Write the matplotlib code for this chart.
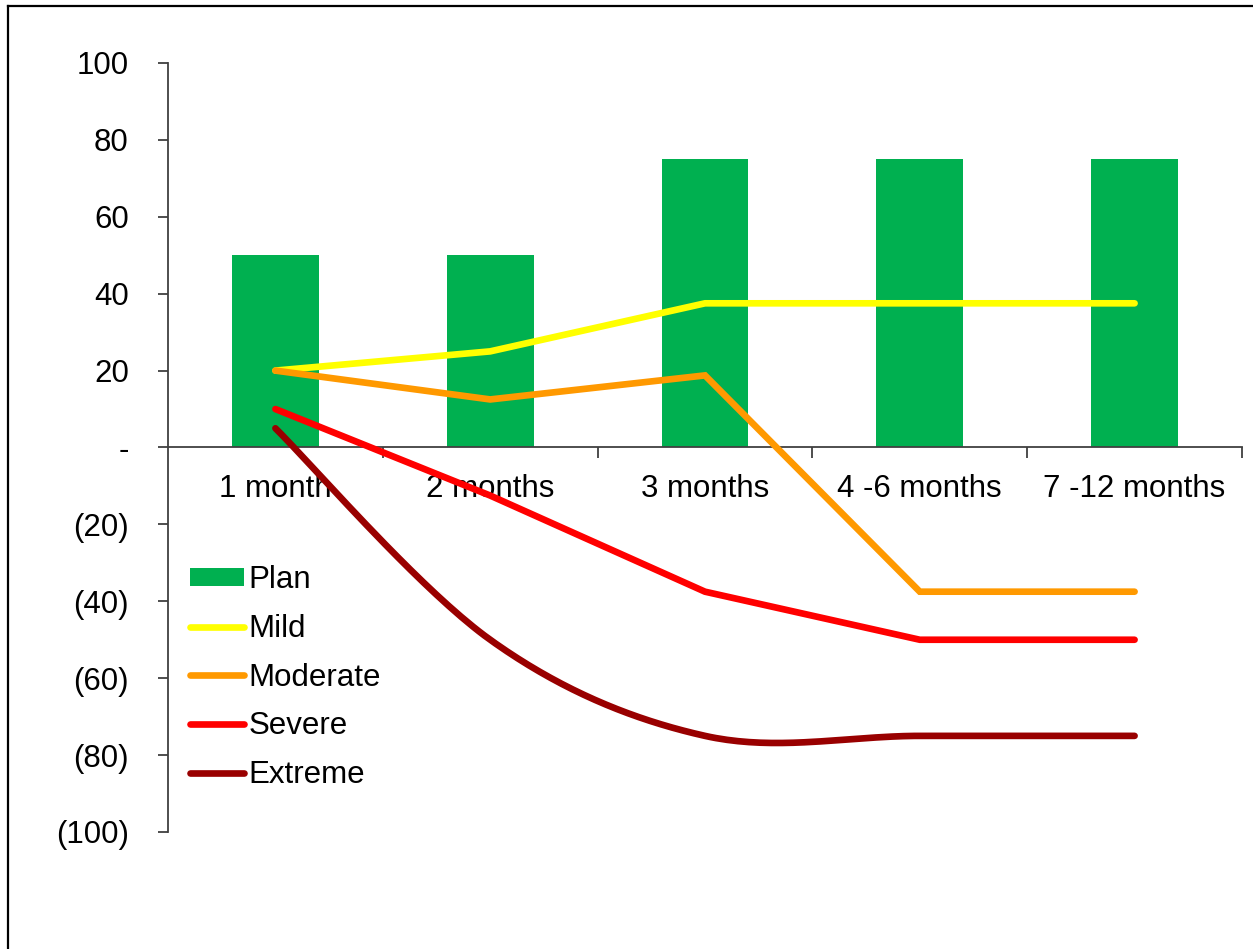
import numpy as np
import matplotlib
matplotlib.use('Agg')
import matplotlib.pyplot as plt
from matplotlib.lines import Line2D
from matplotlib.ticker import FuncFormatter, FixedLocator

plt.rcParams['font.family'] = ['Liberation Sans', 'DejaVu Sans']

# data
categories = ['1 month', '2 months', '3 months', '4 -6 months', '7 -12 months']
plan = [50, 50, 75, 75, 75]
mild = [20, 25, 37.5, 37.5, 37.5]
moderate = [20, 12.5, 18.75, -37.5, -37.5]
severe = [10, -12.5, -37.5, -50, -50]
extreme = [5, -50, -75, -75, -75]

green = '#00B050'
series = [('Mild', mild, '#FFFF00', False),
          ('Moderate', moderate, '#FF9900', False),
          ('Severe', severe, '#FF0000', False),
          ('Extreme', extreme, '#990000', True)]


def smooth(x, y, n=40):
	# excel-like smoothed line (catmull-rom bezier)
	p = np.column_stack([x, y]).astype(float)
	pts = np.vstack([p[0], p, p[-1]])
	out = []
	for i in range(len(p) - 1):
		p0, p1, p2, p3 = pts[i], pts[i + 1], pts[i + 2], pts[i + 3]
		c1 = p1 + (p2 - p0) / 6
		c2 = p2 - (p3 - p1) / 6
		t = np.linspace(0, 1, n)[:, None]
		seg = (1 - t)**3 * p1 + 3 * (1 - t)**2 * t * c1 + 3 * (1 - t) * t**2 * c2 + t**3 * p2
		out.append(seg if i == 0 else seg[1:])
	out = np.vstack(out)
	return out[:, 0], out[:, 1]


fig = plt.figure(figsize=(12.53, 9.49), dpi=100)
ax = fig.add_axes([168/1253, 1 - 832/949, (1242 - 168)/1253, (832 - 63)/949])

x = np.arange(len(categories))
handles = [ax.bar(x, plan, width=0.405, color=green, label='Plan', zorder=1)]

for name, vals, col, sm in series:
	if sm:
		xs, ys = smooth(x, vals)
	else:
		xs, ys = x, vals
	ln, = ax.plot(xs, ys, color=col, lw=4.8, label=name, solid_capstyle='round',
				  solid_joinstyle='miter', zorder=3)
	handles.append(ln)

ax.set_xlim(-0.5, len(categories) - 0.5)
ax.set_ylim(-100, 100)

axcol = '#404040'
for s in ['top', 'right']:
	ax.spines[s].set_visible(False)
ax.spines['bottom'].set_position(('data', 0))
ax.spines['bottom'].set_zorder(2)
for s in ['left', 'bottom']:
	ax.spines[s].set_color(axcol)
	ax.spines[s].set_linewidth(1.3)

ax.set_yticks(np.arange(-100, 101, 20))
ax.yaxis.set_major_formatter(FuncFormatter(
	lambda v, p: '-' if v == 0 else (f'({abs(v):.0f})' if v < 0 else f'{v:.0f}')))
ax.tick_params(axis='y', direction='out', length=7.2, width=1.3, color=axcol,
			   labelsize=22.5, pad=21)

ax.set_xticks(x)
ax.set_xticklabels(categories)
ax.xaxis.set_minor_locator(FixedLocator(np.arange(0.5, len(categories), 1.0)))
ax.tick_params(axis='x', which='major', length=0, labelsize=22.5, pad=19)
ax.tick_params(axis='x', which='minor', direction='out', length=8, width=1.3, color=axcol)

leg = ax.legend(handles=handles, loc='upper left', bbox_to_anchor=(190/1253, 1 - 565/949),
				bbox_transform=fig.transFigure, frameon=False, fontsize=22.5,
				borderpad=0, borderaxespad=0, handlelength=1.74, handletextpad=0.13,
				labelspacing=0.6, handleheight=0.53)

# page border (left and top only)
fig.add_artist(Line2D([8/1253, 8/1253], [0, 1 - 6/949], color='black', lw=1.6))
fig.add_artist(Line2D([8/1253, 1], [1 - 6/949, 1 - 6/949], color='black', lw=1.6))

fig.savefig('out.png', dpi=100)
